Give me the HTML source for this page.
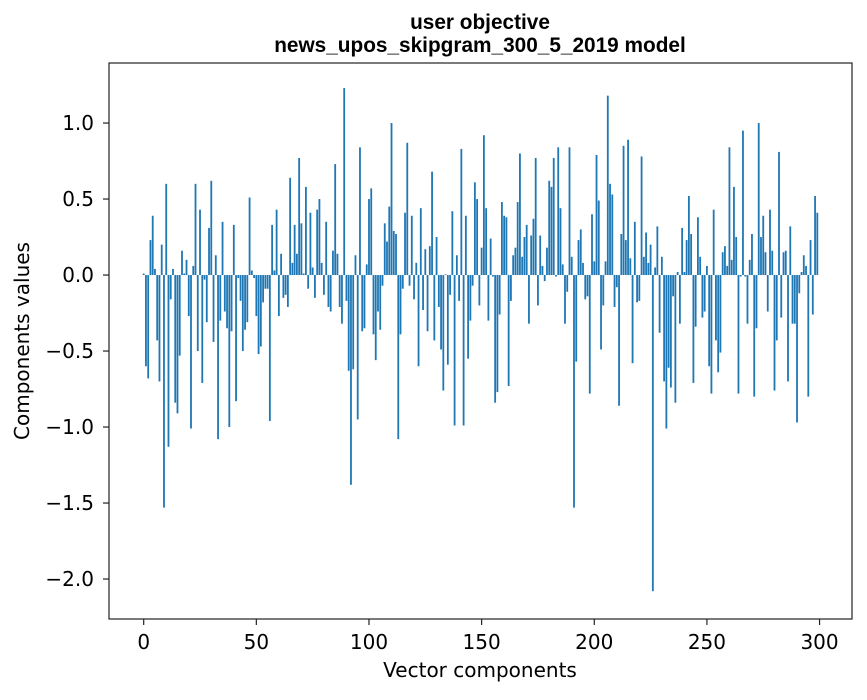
<!DOCTYPE html>
<html><head><meta charset="utf-8"><style>
body{margin:0;background:#fff;font-family:"DejaVu Sans",sans-serif;}
svg text{font-family:"DejaVu Sans",sans-serif;}
</style></head><body>
<svg id="chart" width="867" height="696" xmlns="http://www.w3.org/2000/svg">
<rect width="867" height="696" fill="#fff"/>
<text x="480" y="29" text-anchor="middle" font-size="20.8" font-weight="bold" style="font-family:'Liberation Sans',sans-serif">user objective</text>
<text x="480" y="52" text-anchor="middle" font-size="20.8" font-weight="bold" style="font-family:'Liberation Sans',sans-serif">news_upos_skipgram_300_5_2019 model</text>
<g id="bars"></g>
<g id="axes"></g>
<rect x="109" y="63" width="743" height="556" fill="none" stroke="#222" stroke-width="1.2"/>
<text x="480" y="677" text-anchor="middle" font-size="20">Vector components</text>
<text transform="translate(29,341) rotate(-90)" text-anchor="middle" font-size="20">Components values</text>
</svg>
<script>
const values = [
0.01,-0.6,-0.68,0.23,0.39,0.04,-0.43,-0.7,0.2,-1.53,
0.6,-1.13,-0.16,0.04,-0.84,-0.91,-0.53,0.16,0.01,0.1,
-0.27,-1.01,0.06,0.6,-0.5,0.43,-0.71,-0.03,-0.31,0.31,
0.62,-0.44,0.13,-1.08,-0.3,0.35,-0.24,-0.35,-1.0,-0.37,
0.33,-0.83,-0.02,-0.17,-0.5,-0.36,-0.31,0.51,0.03,-0.02,
-0.27,-0.52,-0.47,-0.18,-0.09,-0.09,-0.96,0.33,0.03,0.43,
-0.27,0.14,-0.15,-0.13,-0.21,0.64,0.08,0.33,0.14,0.77,
0.34,0.01,0.58,-0.09,0.41,0.05,-0.15,0.43,0.5,0.08,
-0.13,0.35,-0.21,-0.24,0.16,0.73,0.14,-0.21,-0.32,1.23,
-0.17,-0.63,-1.38,-0.62,0.13,-0.95,0.84,-0.37,-0.35,0.07,
0.5,0.57,-0.39,-0.56,-0.24,-0.36,-0.07,0.34,0.22,0.45,
1.0,0.29,0.27,-1.08,-0.39,-0.09,0.41,0.87,-0.07,0.39,
-0.16,0.08,-0.6,0.44,-0.23,0.17,-0.37,0.19,0.68,-0.43,
0.25,-0.21,-0.49,-0.76,0.005,-0.59,-0.13,0.42,-0.99,0.13,
-0.17,0.83,-0.99,0.39,-0.55,-0.3,-0.07,0.61,0.5,-0.2,
0.18,0.92,0.44,-0.3,0.24,-0.01,-0.84,-0.77,-0.26,0.48,
0.39,0.38,-0.73,-0.17,0.13,0.18,0.48,0.8,0.12,0.25,
0.33,-0.32,0.26,0.37,0.77,-0.2,0.26,0.06,-0.04,0.18,
0.62,0.58,0.77,-0.01,0.84,0.44,0.07,-0.32,-0.11,0.84,
0.12,-1.53,-0.57,0.23,0.3,0.08,-0.16,-0.14,-0.78,0.4,
0.09,0.79,0.49,-0.49,-0.2,0.09,1.18,0.6,0.53,-0.21,
-0.08,-0.86,0.27,0.85,0.23,0.89,0.11,-0.58,0.35,-0.18,
-0.17,0.78,0.12,0.28,0.08,0.2,-2.08,0.05,0.32,-0.38,
0.12,-0.7,-1.01,-0.61,-0.74,-0.14,-0.84,0.02,-0.32,0.31,
0.02,0.23,0.52,0.27,-0.71,-0.34,0.38,0.12,-0.28,-0.24,
0.06,-0.6,-0.78,0.43,-0.43,-0.64,-0.51,0.15,0.19,0.06,
0.84,0.1,0.58,0.25,-0.78,-0.01,0.95,-0.01,-0.32,0.1,
0.27,-0.8,-0.35,1.0,0.25,0.39,0.15,-0.24,0.43,0.16,
-0.76,-0.43,0.81,-0.28,0.15,0.16,-0.7,0.32,-0.32,-0.32,
-0.97,-0.12,0.02,0.13,0.06,-0.8,0.23,-0.26,0.52,0.41
];
const xTicks = [0,50,100,150,200,250,300];
const yTicks = [1.0,0.5,0.0,-0.5,-1.0,-1.5,-2.0];
const L=109,R=852,T=63,B=619, XMIN=-15.4, XMAX=314.4, YMIN=-2.263, YMAX=1.395;
const sx=v=>L+(v-XMIN)/(XMAX-XMIN)*(R-L);
const sy=v=>B-(v-YMIN)/(YMAX-YMIN)*(B-T);
const NS='http://www.w3.org/2000/svg';
const bars=document.getElementById('bars');
values.forEach((v,i)=>{
  const r=document.createElementNS(NS,'rect');
  const x0=sx(i-0.4), x1=sx(i+0.4), y0=sy(Math.max(v,0)), y1=sy(Math.min(v,0));
  r.setAttribute('x',x0);r.setAttribute('width',x1-x0);
  r.setAttribute('y',y0);r.setAttribute('height',Math.max(y1-y0,0.01));
  r.setAttribute('fill','#1f77b4');
  
  
  bars.appendChild(r);
});
const axes=document.getElementById('axes');
xTicks.forEach(t=>{
  const x=sx(t);
  const l=document.createElementNS(NS,'line');
  l.setAttribute('x1',x);l.setAttribute('x2',x);l.setAttribute('y1',B);l.setAttribute('y2',B+6);l.setAttribute('stroke','#222');l.setAttribute('stroke-width','1.2');
  
  
  axes.appendChild(l);
  const s=document.createElementNS(NS,'text');
  s.setAttribute('x',x);s.setAttribute('y',B+30);s.setAttribute('text-anchor','middle');s.setAttribute('font-size','20');
  s.textContent=String(t);
  
  
  axes.appendChild(s);
});
yTicks.forEach(t=>{
  const y=sy(t);
  const l=document.createElementNS(NS,'line');
  l.setAttribute('x1',L-6);l.setAttribute('x2',L);l.setAttribute('y1',y);l.setAttribute('y2',y);l.setAttribute('stroke','#222');l.setAttribute('stroke-width','1.2');
  
  
  axes.appendChild(l);
  const s=document.createElementNS(NS,'text');
  s.setAttribute('x',L-15);s.setAttribute('y',y+7);s.setAttribute('text-anchor','end');s.setAttribute('font-size','20');
  s.textContent=(t<0?'\u2212':'')+Math.abs(t).toFixed(1);
  
  
  axes.appendChild(s);
});
</script>
</body></html>
